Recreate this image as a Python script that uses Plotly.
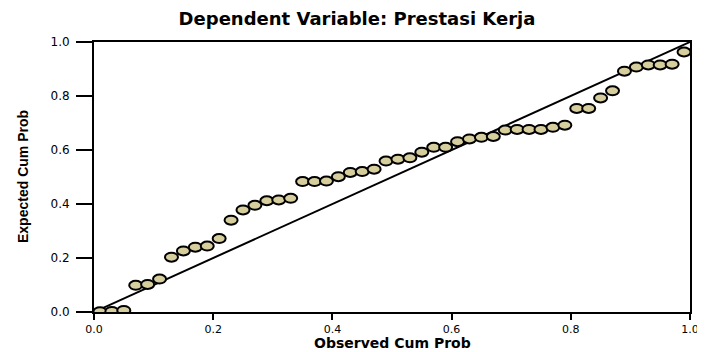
import plotly.graph_objects as go

# Observed cumulative probability (x) and expected cumulative probability (y)
observed_cum_prob = [0.01, 0.03, 0.05, 0.07, 0.09, 0.11, 0.13, 0.15, 0.17, 0.19,
                     0.21, 0.23, 0.25, 0.27, 0.29, 0.31, 0.33, 0.35, 0.37, 0.39,
                     0.41, 0.43, 0.45, 0.47, 0.49, 0.51, 0.53, 0.55, 0.57, 0.59,
                     0.61, 0.63, 0.65, 0.67, 0.69, 0.71, 0.73, 0.75, 0.77, 0.79,
                     0.81, 0.83, 0.85, 0.87, 0.89, 0.91, 0.93, 0.95, 0.97, 0.99]
expected_cum_prob = [0.001, 0.002, 0.006, 0.099, 0.102, 0.122, 0.203, 0.226, 0.240, 0.244,
                     0.272, 0.340, 0.378, 0.395, 0.412, 0.415, 0.421, 0.483, 0.483, 0.485,
                     0.501, 0.517, 0.520, 0.529, 0.559, 0.566, 0.571, 0.592, 0.610, 0.610,
                     0.631, 0.641, 0.647, 0.650, 0.674, 0.676, 0.676, 0.676, 0.684, 0.692,
                     0.754, 0.754, 0.793, 0.819, 0.892, 0.907, 0.915, 0.915, 0.918, 0.963]
diagonal = [0.0, 1.0]
tick_values = [0.0, 0.2, 0.4, 0.6, 0.8, 1.0]
tick_labels = ["0.0", "0.2", "0.4", "0.6", "0.8", "1.0"]

title_text = "Dependent Variable: Prestasi Kerja"
x_title = "Observed Cum Prob"
y_title = "Expected Cum Prob"

MARKER_FILL = "#d6ce9c"

# page body has an 8px margin, so the figure is laid out 8px smaller
W, H = 697, 344
L, R, T, B = 86, 15, 34, 40
PW, PH = W - L - R, H - T - B

fig = go.Figure()
fig.add_trace(go.Scatter(x=diagonal, y=diagonal, mode="lines",
                         line=dict(color="black", width=2),
                         hoverinfo="skip", showlegend=False))
# invisible trace carrying the data (for hover)
fig.add_trace(go.Scatter(x=observed_cum_prob, y=expected_cum_prob, mode="markers",
                         marker=dict(size=10, opacity=0), showlegend=False))

shapes = []
for xo, ye in zip(observed_cum_prob, expected_cum_prob):
    shapes.append(dict(type="circle", xref="x", yref="y",
                       xsizemode="pixel", ysizemode="pixel",
                       xanchor=xo, yanchor=ye,
                       x0=-6.5, x1=6.5, y0=-4.5, y1=4.5,
                       fillcolor=MARKER_FILL,
                       line=dict(color="black", width=2),
                       layer="above"))

axis_common = dict(range=[0, 1], tickvals=tick_values, ticktext=tick_labels,
                   showgrid=False, zeroline=False, showline=True,
                   linecolor="black", linewidth=2, mirror=True,
                   ticks="outside", tickcolor="black", tickwidth=2,
                   automargin=False)

fig.update_layout(
    width=W, height=H,
    margin=dict(l=L, r=R, t=T, b=B, autoexpand=False),
    paper_bgcolor="white", plot_bgcolor="white",
    shapes=shapes,
    title=dict(text=title_text, x=(349 - L) / PW, xref="paper",
               xanchor="center", y=1 - 11 / H, yref="container",
               yanchor="middle", automargin=False,
               font=dict(family="DejaVu Sans, Arial, sans-serif", size=18,
                         color="black", weight="bold")),
    xaxis=dict(axis_common, ticklen=6, ticklabelstandoff=0,
               tickfont=dict(family="DejaVu Sans, Arial, sans-serif",
                             size=11, color="black")),
    yaxis=dict(axis_common, ticklen=16, ticklabelstandoff=4,
               tickfont=dict(family="DejaVu Sans, Arial, sans-serif",
                             size=12, color="black")),
    annotations=[
        dict(text="<b>%s</b>" % x_title, xref="paper", yref="paper",
             x=0.5, y=-31 / PH, xanchor="center", yanchor="middle",
             showarrow=False,
             font=dict(family="DejaVu Sans, Arial, sans-serif", size=14,
                       color="black")),
        dict(text="<b>%s</b>" % y_title, xref="paper", yref="paper",
             x=(15 - L) / PW, y=0.5, xanchor="center", yanchor="middle",
             textangle=-90, showarrow=False,
             font=dict(family="Liberation Sans, Arial, sans-serif",
                       size=14, color="black")),
    ],
)

fig.write_html("out.html")
